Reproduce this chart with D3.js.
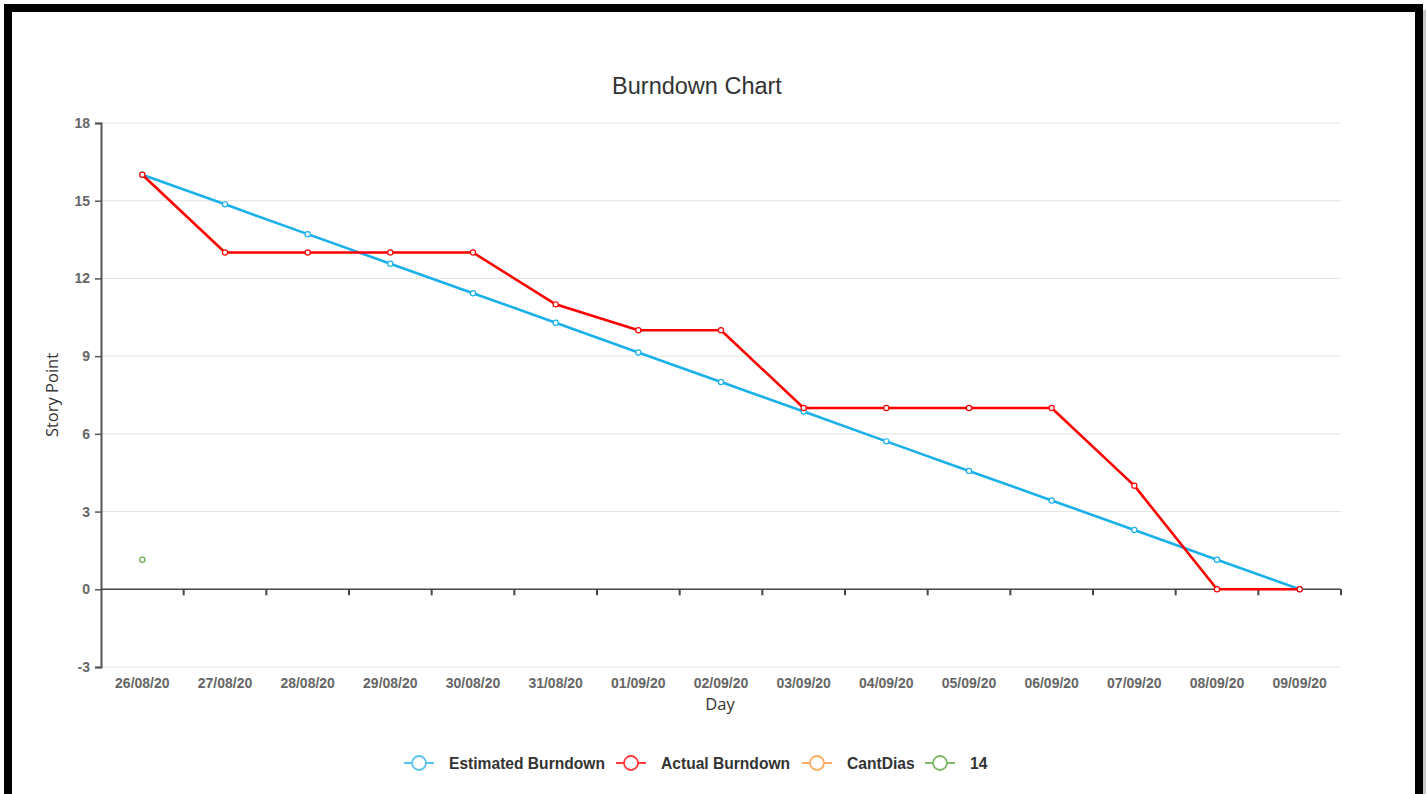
<!DOCTYPE html>
<html>
<head>
<meta charset="utf-8">
<script src="https://cdn.jsdelivr.net/npm/d3@7"></script>
<style>
  html, body { margin: 0; padding: 0; background: #fff; }
  svg { display: block; }
</style>
</head>
<body>
<svg id="chart" width="1427" height="794"></svg>
<script>
// Sprint days
const days = ["26/08/20","27/08/20","28/08/20","29/08/20","30/08/20","31/08/20","01/09/20",
  "02/09/20","03/09/20","04/09/20","05/09/20","06/09/20","07/09/20","08/09/20","09/09/20"];
// Ideal remaining story points per day
const estimated = [16, 14.86, 13.71, 12.57, 11.43, 10.29, 9.14, 8, 6.86, 5.71, 4.57, 3.43, 2.29, 1.14, 0];
// Remaining story points actually recorded
const actual = [16, 13, 13, 13, 13, 11, 10, 10, 7, 7, 7, 7, 4, 0, 0];
// Single-point series "14"
const series14 = [1.14];
// Series "CantDias" has no plotted values
const cantDias = [];
const yTicks = [-3, 0, 3, 6, 9, 12, 15, 18];
const legendNames = ["Estimated Burndown", "Actual Burndown", "CantDias", "14"];

const svg = d3.select("#chart");

// frame
svg.append("rect").attr("x", 0).attr("y", 0).attr("width", 1427).attr("height", 794).attr("fill", "#fff");
svg.append("rect").attr("x", 1422).attr("y", 10).attr("width", 4).attr("height", 784).attr("fill", "#c8c8c8");
svg.append("rect").attr("x", 8).attr("y", 8).attr("width", 1411).attr("height", 792)
  .attr("fill", "none").attr("stroke", "#000").attr("stroke-width", 8);

const plotLeft = 101, plotRight = 1341, plotTop = 123, plotBottom = 667;

const x = d3.scaleBand().domain(days).range([plotLeft, plotRight]);
const y = d3.scaleLinear().domain([-3, 18]).range([plotBottom, plotTop]);
const cx = d => x(d) + x.bandwidth() / 2;

// horizontal grid
svg.append("g").selectAll("line").data(yTicks.filter(t => t !== 0)).join("line")
  .attr("x1", plotLeft).attr("x2", plotRight)
  .attr("y1", d => y(d)).attr("y2", d => y(d))
  .attr("stroke", "#e3e3e3").attr("stroke-width", 1);

// y axis
const yAxis = svg.append("g").attr("transform", `translate(${plotLeft},0)`)
  .call(d3.axisLeft(y).tickValues(yTicks).tickSize(6).tickPadding(5).tickFormat(d => String(d)));
yAxis.select(".domain").attr("stroke", "#555").attr("stroke-width", 2);
yAxis.selectAll(".tick line").attr("stroke", "#555").attr("stroke-width", 1.5);
yAxis.selectAll("text").attr("font-family", "Liberation Sans, Arial, sans-serif")
  .attr("font-size", 14).attr("font-weight", "bold").attr("fill", "#666");

// x axis along zero, with band-edge ticks
const xAxisG = svg.append("g");
xAxisG.append("line").attr("x1", plotLeft).attr("x2", plotRight)
  .attr("y1", y(0)).attr("y2", y(0)).attr("stroke", "#444").attr("stroke-width", 1.5);
const edges = days.map(d => x(d)).slice(1).concat([plotRight]);
xAxisG.selectAll("line.tick").data(edges).join("line").attr("class", "tick")
  .attr("x1", d => d).attr("x2", d => d)
  .attr("y1", y(0)).attr("y2", y(0) + 6)
  .attr("stroke", "#444").attr("stroke-width", 2);
xAxisG.selectAll("text").data(days).join("text")
  .attr("x", d => cx(d)).attr("y", 688)
  .attr("text-anchor", "middle")
  .attr("font-family", "Liberation Sans, Arial, sans-serif")
  .attr("font-size", 14).attr("font-weight", "bold").attr("fill", "#666")
  .text(d => d);

// titles
svg.append("text").attr("x", 697).attr("y", 94).attr("text-anchor", "middle")
  .attr("font-family", "Liberation Sans, Arial, sans-serif").attr("font-size", 23.5)
  .attr("fill", "#333").text("Burndown Chart");
svg.append("text").attr("x", 720).attr("y", 710).attr("text-anchor", "middle")
  .attr("font-family", "Open Sans, sans-serif").attr("font-size", 16.5)
  .attr("fill", "#333").text("Day");
svg.append("text").attr("transform", "translate(58,395) rotate(-90)").attr("text-anchor", "middle")
  .attr("font-family", "Open Sans, sans-serif").attr("font-size", 16.5)
  .attr("fill", "#333").text("Story Point");

// series
const seriesList = [
  { name: "Estimated Burndown", values: estimated, color: "#1ab0ea" },
  { name: "Actual Burndown", values: actual, color: "#ff0000" },
  { name: "CantDias", values: cantDias, color: "#ffa552" },
  { name: "14", values: series14, color: "#6aa84f" }
];
const line = d3.line().x((d, i) => cx(days[i])).y(d => y(d));

seriesList.forEach(s => {
  if (s.values.length > 1) {
    svg.append("path").datum(s.values).attr("d", line)
      .attr("fill", "none").attr("stroke", s.color).attr("stroke-width", 2.6)
      .attr("stroke-linejoin", "round");
  }
  svg.append("g").selectAll("circle").data(s.values).join("circle")
    .attr("cx", (d, i) => cx(days[i])).attr("cy", d => y(d)).attr("r", 2.6)
    .attr("fill", "#fff").attr("stroke", s.color).attr("stroke-width", 1.2);
});

// legend
const legendColors = ["#55c3f0", "#ff3b3b", "#ffab60", "#82b86a"];
const legendX = [404, 616, 802, 925];
const lg = svg.append("g");
legendNames.forEach((n, i) => {
  const g = lg.append("g").attr("transform", `translate(${legendX[i]},763)`);
  g.append("line").attr("x1", 0).attr("x2", 30).attr("y1", 0).attr("y2", 0)
    .attr("stroke", legendColors[i]).attr("stroke-width", 2);
  g.append("circle").attr("cx", 15).attr("cy", 0).attr("r", 7)
    .attr("fill", "#fff").attr("stroke", legendColors[i]).attr("stroke-width", 1.8);
  g.append("text").attr("x", 45).attr("y", 5.5)
    .attr("font-family", "Liberation Sans, Arial, sans-serif").attr("font-size", 15.6)
    .attr("font-weight", "bold").attr("fill", "#333").text(n);
});
</script>
</body>
</html>
